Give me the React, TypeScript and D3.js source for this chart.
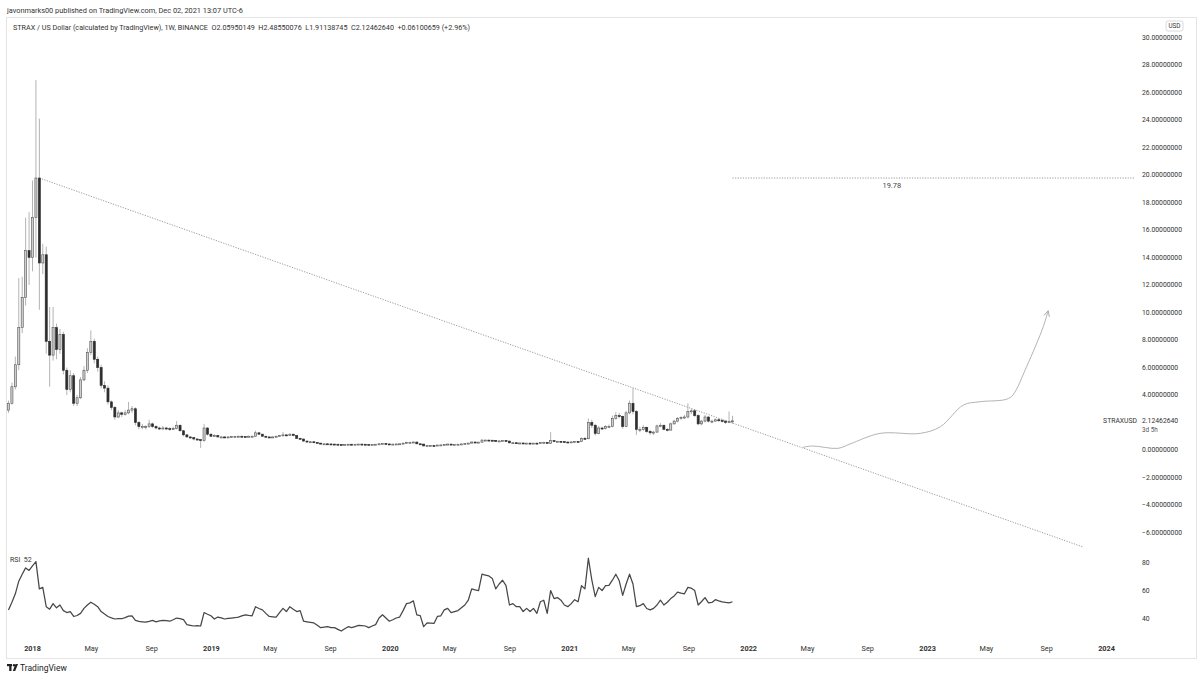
import React from 'react';
import * as d3 from 'd3';

// weekly STRAX/USD bars, first bar week of 2017-11-13
const firstBar = new Date(2017, 10, 13);

const opens = [
  2.9, 3.4, 4.6, 6.2, 8.9, 11.1, 14.5, 14.0, 16.9, 19.78,
  13.6, 14.2, 7.9, 6.9, 8.9, 7.3, 8.4, 5.8, 4.4, 5.4,
  3.4, 3.8, 5.1, 5.8, 7.1, 7.9, 6.6, 6.0, 4.7, 4.5,
  3.5, 3.1, 2.4, 2.7, 2.6, 2.7, 2.9, 3.0, 2.0, 1.7,
  1.7, 1.7, 1.9, 1.7, 1.6, 1.55, 1.6, 1.55, 1.5, 1.55,
  1.8, 1.4, 1.1, 0.95, 0.9, 0.8, 0.75, 0.7, 1.6, 1.15,
  1.0, 1.05, 0.95, 0.95, 0.93, 0.95, 0.97, 0.98, 1.0, 0.98,
  0.97, 1.0, 1.0, 1.25, 1.15, 1.0, 0.95, 0.9, 0.95, 1.0,
  1.05, 1.1, 1.05, 1.15, 1.05, 0.85, 0.8, 0.65, 0.6, 0.6,
  0.55, 0.5, 0.45, 0.45, 0.44, 0.43, 0.42, 0.4, 0.38, 0.4,
  0.42, 0.41, 0.42, 0.43, 0.42, 0.41, 0.4, 0.41, 0.42, 0.45,
  0.47, 0.44, 0.42, 0.43, 0.44, 0.45, 0.5, 0.55, 0.56, 0.58,
  0.45, 0.43, 0.3, 0.32, 0.32, 0.31, 0.36, 0.37, 0.41, 0.43,
  0.4, 0.41, 0.42, 0.44, 0.46, 0.5, 0.58, 0.57, 0.57, 0.72,
  0.72, 0.71, 0.7, 0.62, 0.66, 0.69, 0.65, 0.52, 0.53, 0.51,
  0.51, 0.48, 0.5, 0.48, 0.5, 0.47, 0.55, 0.56, 0.48, 0.68,
  0.62, 0.63, 0.61, 0.58, 0.57, 0.59, 0.62, 0.61, 0.85, 0.82,
  2.0, 1.8, 1.2, 1.6, 1.55, 1.7, 1.72, 2.3, 2.5, 2.45,
  1.7, 2.7, 3.4, 2.8, 1.5, 1.5, 1.65, 1.35, 1.25, 1.3,
  1.75, 1.8, 1.5, 1.45, 1.9, 2.1, 2.3, 2.35, 2.4, 2.8,
  2.85, 2.5, 1.9, 2.1, 2.4, 2.1, 2.1, 2.2, 2.15, 2.1,
  2.0, 2.0595015,
];

const highs = [
  3.6, 4.9, 6.8, 12.5, 12.6, 16.9, 17.3, 19.6, 26.9, 24.1,
  15.0, 14.8, 10.4, 10.4, 9.2, 8.8, 8.6, 6.0, 5.8, 5.6,
  4.0, 5.3, 6.1, 7.4, 8.7, 8.1, 6.8, 6.2, 5.0, 4.7,
  3.6, 3.2, 2.9, 2.8, 2.9, 3.5, 3.2, 3.1, 2.1, 1.9,
  1.8, 2.2, 2.0, 1.8, 1.7, 1.75, 1.7, 1.65, 1.7, 2.1,
  1.85, 1.45, 1.15, 1.0, 0.95, 0.85, 0.8, 1.9, 1.65, 1.2,
  1.15, 1.1, 1.0, 1.0, 1.0, 1.02, 1.03, 1.05, 1.04, 1.02,
  1.05, 1.06, 1.4, 1.28, 1.18, 1.03, 0.98, 1.0, 1.05, 1.1,
  1.3, 1.15, 1.2, 1.18, 1.08, 0.9, 0.82, 0.68, 0.65, 0.62,
  0.57, 0.52, 0.48, 0.47, 0.46, 0.45, 0.44, 0.42, 0.42, 0.44,
  0.44, 0.44, 0.45, 0.45, 0.44, 0.43, 0.43, 0.44, 0.48, 0.5,
  0.48, 0.46, 0.45, 0.46, 0.47, 0.53, 0.6, 0.6, 0.62, 0.6,
  0.48, 0.45, 0.35, 0.35, 0.34, 0.38, 0.4, 0.43, 0.46, 0.44,
  0.43, 0.44, 0.46, 0.48, 0.53, 0.62, 0.61, 0.6, 0.78, 0.76,
  0.75, 0.74, 0.72, 0.69, 0.72, 0.71, 0.66, 0.56, 0.55, 0.54,
  0.53, 0.52, 0.52, 0.52, 0.52, 0.58, 0.6, 0.58, 1.3, 0.72,
  0.67, 0.66, 0.64, 0.61, 0.62, 0.66, 0.65, 0.92, 0.95, 2.3,
  2.2, 1.9, 1.75, 1.7, 1.8, 1.85, 2.5, 2.75, 2.7, 2.5,
  2.85, 3.6, 4.5, 2.9, 1.7, 1.8, 1.7, 1.45, 1.4, 1.85,
  1.95, 1.85, 1.6, 2.0, 2.2, 2.4, 2.45, 2.55, 3.4, 3.0,
  2.95, 2.6, 2.2, 2.55, 2.45, 2.2, 2.3, 2.3, 2.25, 2.15,
  2.8, 2.4855008,
];

const lows = [
  2.7, 3.3, 4.4, 5.8, 8.5, 10.5, 12.0, 13.0, 14.0, 10.2,
  12.8, 7.0, 4.6, 6.5, 6.6, 7.0, 5.5, 4.0, 4.2, 3.2,
  3.2, 3.7, 5.0, 5.6, 6.9, 6.3, 5.7, 4.5, 4.2, 3.3,
  2.9, 2.2, 2.3, 2.4, 2.5, 2.6, 2.7, 1.8, 1.5, 1.5,
  1.5, 1.6, 1.6, 1.5, 1.45, 1.5, 1.45, 1.4, 1.45, 1.5,
  1.35, 1.0, 0.9, 0.8, 0.7, 0.65, 0.15, 0.6, 1.05, 0.95,
  0.95, 0.9, 0.88, 0.88, 0.9, 0.9, 0.92, 0.94, 0.93, 0.92,
  0.94, 0.95, 0.97, 1.1, 0.97, 0.9, 0.86, 0.87, 0.92, 0.97,
  1.0, 1.0, 1.02, 1.0, 0.8, 0.75, 0.6, 0.55, 0.56, 0.5,
  0.46, 0.42, 0.42, 0.41, 0.4, 0.39, 0.37, 0.35, 0.36, 0.38,
  0.39, 0.39, 0.4, 0.4, 0.39, 0.37, 0.38, 0.39, 0.4, 0.43,
  0.42, 0.4, 0.4, 0.41, 0.42, 0.43, 0.48, 0.52, 0.53, 0.42,
  0.4, 0.25, 0.27, 0.29, 0.28, 0.29, 0.34, 0.35, 0.39, 0.38,
  0.38, 0.39, 0.4, 0.42, 0.44, 0.48, 0.54, 0.54, 0.55, 0.68,
  0.67, 0.66, 0.59, 0.6, 0.63, 0.62, 0.49, 0.5, 0.48, 0.48,
  0.45, 0.46, 0.45, 0.46, 0.44, 0.45, 0.52, 0.45, 0.46, 0.58,
  0.59, 0.57, 0.55, 0.54, 0.54, 0.56, 0.58, 0.59, 0.76, 0.78,
  1.6, 1.05, 1.15, 1.45, 1.5, 1.6, 1.65, 2.2, 2.3, 1.55,
  1.65, 2.6, 2.6, 1.1, 1.3, 1.4, 1.25, 1.1, 1.1, 1.25,
  1.65, 1.45, 1.35, 1.4, 1.85, 2.0, 2.2, 2.25, 2.3, 2.6,
  2.4, 1.8, 1.8, 2.0, 2.0, 1.95, 2.05, 2.05, 2.0, 1.9,
  1.95, 1.9113875,
];

const closes = [
  3.4, 4.6, 6.2, 8.9, 11.1, 14.5, 14.0, 16.9, 19.78, 13.6,
  14.2, 7.9, 6.9, 8.9, 7.3, 8.4, 5.8, 4.4, 5.4, 3.4,
  3.8, 5.1, 5.8, 7.1, 7.9, 6.6, 6.0, 4.7, 4.5, 3.5,
  3.1, 2.4, 2.7, 2.6, 2.7, 2.9, 3.0, 2.0, 1.7, 1.7,
  1.7, 1.9, 1.7, 1.6, 1.55, 1.6, 1.55, 1.5, 1.55, 1.8,
  1.4, 1.1, 0.95, 0.9, 0.8, 0.75, 0.7, 1.6, 1.15, 1.0,
  1.05, 0.95, 0.95, 0.93, 0.95, 0.97, 0.98, 1.0, 0.98, 0.97,
  1.0, 1.0, 1.25, 1.15, 1.0, 0.95, 0.9, 0.95, 1.0, 1.05,
  1.1, 1.05, 1.15, 1.05, 0.85, 0.8, 0.65, 0.6, 0.6, 0.55,
  0.5, 0.45, 0.45, 0.44, 0.43, 0.42, 0.4, 0.38, 0.4, 0.42,
  0.41, 0.42, 0.43, 0.42, 0.41, 0.4, 0.41, 0.42, 0.45, 0.47,
  0.44, 0.42, 0.43, 0.44, 0.45, 0.5, 0.55, 0.56, 0.58, 0.45,
  0.43, 0.3, 0.32, 0.32, 0.31, 0.36, 0.37, 0.41, 0.43, 0.4,
  0.41, 0.42, 0.44, 0.46, 0.5, 0.58, 0.57, 0.57, 0.72, 0.72,
  0.71, 0.7, 0.62, 0.66, 0.69, 0.65, 0.52, 0.53, 0.51, 0.51,
  0.48, 0.5, 0.48, 0.5, 0.47, 0.55, 0.56, 0.48, 0.68, 0.62,
  0.63, 0.61, 0.58, 0.57, 0.59, 0.62, 0.61, 0.85, 0.82, 2.0,
  1.8, 1.2, 1.6, 1.55, 1.7, 1.72, 2.3, 2.5, 2.45, 1.7,
  2.7, 3.4, 2.8, 1.5, 1.5, 1.65, 1.35, 1.25, 1.3, 1.75,
  1.8, 1.5, 1.45, 1.9, 2.1, 2.3, 2.35, 2.4, 2.8, 2.85,
  2.5, 1.9, 2.1, 2.4, 2.1, 2.1, 2.2, 2.15, 2.1, 2.0,
  2.06, 2.1246264,
];

const rsi = [
  46.5, 52, 58, 67, 72, 76.5, 74.7, 78, 81, 61.5,
  62.6, 48.8, 47, 51, 48, 50, 46, 44.6, 45.3, 41.8,
  42.5, 44, 47.6, 50, 52, 50.5, 48.8, 45.3, 43.5, 41.8,
  40.8, 40, 40.3, 40.2, 41, 42, 42.3, 39, 38.3, 38,
  37.7, 38.3, 39, 38, 38.6, 39, 38.8, 38.4, 39.5, 40.7,
  40.2, 39.5, 36, 35.5, 35, 35.2, 35, 44.6, 43.4, 42.3,
  40, 41.4, 40.8, 40, 40.4, 40.7, 40.9, 41.4, 42.2, 43,
  42.6, 42.3, 48.8, 47.5, 46.5, 44, 41.8, 41.6, 41.4, 44.5,
  47.6, 45.3, 48.8, 47, 45.3, 46, 38.4, 38, 37.6, 37.2,
  35.5, 33.8, 34.2, 34.5, 33.8, 33.8, 32.6, 31.4, 33, 34.5,
  33.8, 34.6, 35.4, 35.2, 35, 33.8, 35, 36, 40.7, 43,
  40.7, 38.4, 39.5, 40.7, 41.4, 46, 51, 51.5, 53, 43,
  42.4, 34.5, 37.2, 37, 36.8, 41.8, 42.3, 46.5, 47.6, 44.6,
  45.3, 46, 48, 50, 53.4, 61.5, 60.8, 60.3, 72, 71.4,
  70.8, 69, 61.5, 65, 67.7, 63.8, 50, 51, 48.8, 48.8,
  45.3, 47.6, 45.3, 47.6, 44, 52.3, 53.4, 44, 60.3, 54.6,
  55.3, 53.4, 50, 48.8, 51, 53.8, 52.3, 63.8, 61.5, 83.4,
  68, 56, 62.6, 60.3, 63.8, 64, 67.7, 72, 67.3, 56.9,
  65, 72, 65, 48.8, 49.5, 51, 47.5, 46.5, 47.6, 50,
  53.4, 50, 52, 54.6, 56.5, 59.2, 58.5, 58, 62.6, 62,
  60.3, 50, 52.5, 55.3, 51.5, 51.8, 53.8, 53, 52.3, 51.8,
  51.5, 52.3,
];

// drawings
const trendDates = [new Date(2018, 0, 15), new Date(2023, 10, 14)];
const trendPrices = [19.78, -7.05];
const levelPrice = 19.78;
const levelDates = [new Date(2021, 10, 29), new Date(2024, 1, 27)];
const levelLabelDate = new Date(2022, 9, 20);
const pathDates = [
  new Date(2022, 3, 22), new Date(2022, 4, 12), new Date(2022, 6, 2), new Date(2022, 6, 27),
  new Date(2022, 8, 26), new Date(2022, 11, 17), new Date(2023, 0, 27), new Date(2023, 2, 15),
  new Date(2023, 3, 18), new Date(2023, 5, 11), new Date(2023, 5, 24), new Date(2023, 6, 22),
  new Date(2023, 7, 25), new Date(2023, 8, 4),
];
const pathPrices = [0.2, 0.29, 0.12, 0.44, 1.21, 1.21, 1.69, 3.27, 3.51, 3.69, 4.0, 6.06, 8.97, 10.13];

const priceTicks = d3.range(-6, 31, 2);
const rsiTicks = [80, 60, 40];

const font = "Roboto, 'Open Sans', sans-serif";
const textColor = '#333';

export default function App() {
  const x = d3.scaleTime().domain([new Date(2018, 0, 1), new Date(2024, 0, 1)]).range([32.5, 1106.5]);
  const y = d3.scaleLinear().domain([-6, 30]).range([532.5, 37.5]);
  const yr = d3.scaleLinear().domain([40, 80]).range([619, 563]);

  const dates = closes.map((_, i) => d3.timeWeek.offset(firstBar, i));
  const bw = 2.1;

  const timeTicks = x.ticks(d3.timeMonth.every(4)!);
  const fmtMonth = d3.timeFormat('%b');
  const last = closes[closes.length - 1];

  const rsiPath = d3.line<number>()
    .x((_, i) => x(dates[i]))
    .y((v) => yr(v))(rsi)!;

  const arrowPath = d3.line<number>()
    .x((_, i) => x(pathDates[i]))
    .y((v) => y(v))
    .curve(d3.curveCatmullRom.alpha(0.5))(pathPrices)!;

  return (
    <svg width={1200} height={680} style={{ position: 'absolute', left: 0, top: 0, background: '#fff' }}
      fontFamily={font}>
      <defs>
        <marker id="ah" viewBox="0 0 10 10" refX="9" refY="5" markerWidth="7" markerHeight="7"
          markerUnits="userSpaceOnUse" orient="auto">
          <path d="M1,1 L9,5 L1,9" fill="none" stroke="#aaa" strokeWidth={1.3} />
        </marker>
      </defs>
      <rect x={0} y={0} width={1200} height={680} fill="#fff" />

      <text x={7} y={13} fontSize={7.2} fill={textColor} textLength={236} lengthAdjust="spacingAndGlyphs">
        javonmarks00 published on TradingView.com, Dec 02, 2021 13:07 UTC-6
      </text>
      <rect x={6.5} y={17.5} width={1190} height={641} fill="none" stroke="#e4e4e4" />
      <text x={13} y={29.5} fontSize={7.1} fill={textColor} xmlSpace="preserve" textLength={457}
        lengthAdjust="spacingAndGlyphs">
        STRAX / US Dollar (calculated by TradingView), 1W, BINANCE  O2.05950149  H2.48550076  L1.91138745  C2.12462640  +0.06100659 (+2.96%)
      </text>

      {/* price axis */}
      <rect x={1166} y={21} width={17} height={10} rx={2} fill="#fff" stroke="#d0d0d0" strokeWidth={0.8} />
      <text x={1174.5} y={28.4} fontSize={6.3} textAnchor="middle" fill={textColor}>USD</text>
      {priceTicks.map((t) => (
        <text key={t} x={1142} y={y(t)} dy="0.35em" fontSize={6.8} fill={textColor}>
          {d3.format('.8f')(t).replace('-', '−')}
        </text>
      ))}
      <text x={1137} y={y(last)} dy="0.35em" fontSize={6.8} textAnchor="end" fill={textColor}>STRAXUSD</text>
      <rect x={1140} y={y(last) - 5.5} width={44} height={18} fill="#fff" />
      <text x={1142} y={y(last)} dy="0.35em" fontSize={6.8} fill={textColor}>2.12462640</text>
      <text x={1142} y={y(last) + 9.5} dy="0.35em" fontSize={6.3} fill="#555">3d 5h</text>

      {/* trend line */}
      <line x1={x(trendDates[0])} y1={y(trendPrices[0])} x2={x(trendDates[1])} y2={y(trendPrices[1])}
        stroke="#808080" strokeWidth={0.8} strokeDasharray="1.2 1.4" />
      {/* 19.78 level */}
      <line x1={x(levelDates[0])} y1={y(levelPrice)} x2={x(levelDates[1])} y2={y(levelPrice)}
        stroke="#808080" strokeWidth={0.8} strokeDasharray="1.2 1.4" />
      <text x={x(levelLabelDate)} y={y(levelPrice) + 9.5} fontSize={7.4} textAnchor="middle" fill="#444">19.78</text>

      {/* projected path */}
      <path d={arrowPath} fill="none" stroke="#b4b4b4" strokeWidth={1} markerEnd="url(#ah)" />

      {/* candles */}
      <g>
        {dates.map((d, i) => (
          <line key={'w' + i} x1={x(d)} x2={x(d)} y1={y(highs[i])} y2={y(lows[i])} stroke="#a0a0a0" strokeWidth={0.8} />
        ))}
        {dates.map((d, i) => {
          const up = closes[i] >= opens[i];
          const top = y(Math.max(opens[i], closes[i]));
          const h = Math.max(1, Math.abs(y(opens[i]) - y(closes[i])));
          return (
            <rect key={'b' + i} x={x(d) - bw / 2} y={top} width={bw} height={h}
              fill={up ? '#cfcfcf' : '#2e2e2e'} stroke={up ? '#555' : '#2e2e2e'} strokeWidth={0.6} />
          );
        })}
      </g>

      {/* RSI pane */}
      <text x={10} y={562} fontSize={7} fill={textColor} xmlSpace="preserve">RSI  52</text>
      <path d={rsiPath} fill="none" stroke="#474747" strokeWidth={1.25} strokeLinejoin="round" />
      {rsiTicks.map((t) => (
        <text key={t} x={1142} y={yr(t)} dy="0.35em" fontSize={6.8} fill={textColor}>{t}</text>
      ))}

      {/* time axis */}
      {timeTicks.map((t) => {
        const isYear = t.getMonth() === 0;
        return (
          <text key={t.getTime()} x={x(t)} y={651} fontSize={7.3} textAnchor="middle"
            fontWeight={isYear ? 700 : 400} fill={textColor}>
            {isYear ? t.getFullYear() : fmtMonth(t)}
          </text>
        );
      })}

      {/* TradingView logo */}
      <g transform="translate(7,664)" fill="#222">
        <rect x={0} y={0} width={5} height={2.2} />
        <rect x={2.2} y={0} width={2.3} height={7} />
        <circle cx={7} cy={1.2} r={1.2} />
        <path d="M8.5,0 L11,0 L8.2,7 L5.8,7 Z" />
      </g>
      <text x={20} y={671} fontSize={8.5} fill="#222">TradingView</text>
    </svg>
  );
}
